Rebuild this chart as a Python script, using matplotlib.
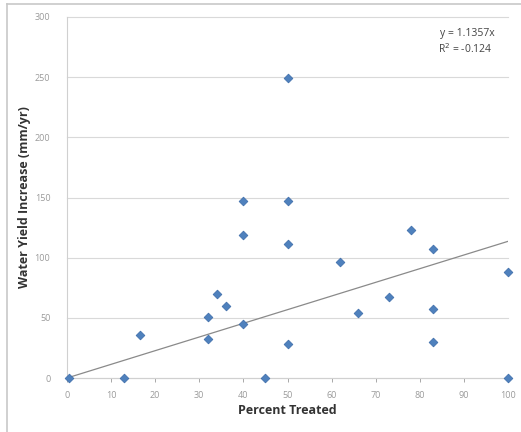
import matplotlib
matplotlib.use("Agg")
import matplotlib.pyplot as plt
from matplotlib.lines import Line2D
import numpy as np

percent_treated = [0.5, 13, 16.5, 32, 32, 34, 36, 40, 40, 40, 45, 50, 50, 50, 50,
                   62, 66, 73, 78, 83, 83, 83, 100, 100]
yield_increase = [0, 0, 36, 51, 32, 70, 60, 45, 119, 147, 0, 28, 111, 147, 249,
                  96, 54, 67, 123, 107, 57, 30, 88, 0]
slope = 1.1357
r2_text = "-0.124"
x_ticks = [0, 10, 20, 30, 40, 50, 60, 70, 80, 90, 100]
y_ticks = [0, 50, 100, 150, 200, 250, 300]

plt.rcParams['font.family'] = ['Open Sans', 'DejaVu Sans']

fig = plt.figure(figsize=(5.21, 4.32), dpi=100)
ax = fig.add_axes([67/521, 1-378/432, (508-67)/521, (378-17)/432])

ax.scatter(percent_treated, yield_increase, marker='D', s=20, color='#4F81BD',
           edgecolors='#3A6AA8', linewidths=0.5, zorder=3, clip_on=False)
xl = np.array([0, 100])
ax.plot(xl, slope * xl, color='#8a8a8a', linewidth=0.9, zorder=2)

ax.set_xlim(0, 100)
ax.set_ylim(0, 300)
ax.set_xticks(x_ticks)
ax.set_yticks(y_ticks)
ax.tick_params(axis='both', labelsize=6.5, colors='#9a9a9a', length=3, width=0.6)
ax.tick_params(axis='y', length=0, pad=12)
ax.tick_params(axis='x', direction='out', pad=6)
ax.grid(axis='y', color='#d9d9d9', linewidth=0.8, clip_on=False)
ax.set_axisbelow(True)
for s in ['top', 'right']:
    ax.spines[s].set_visible(False)
for s in ['left', 'bottom']:
    ax.spines[s].set_color('#d0d0d0')
    ax.spines[s].set_linewidth(0.8)

ax.set_xlabel('Percent Treated', fontsize=9, fontweight='bold', color='#333333', labelpad=3)
ax.set_ylabel('Water Yield Increase (mm/yr)', fontsize=9, fontweight='bold', color='#333333')
ax.yaxis.set_label_coords(-0.082, 0.5)

ax.text(0.97, 0.955, 'y = %.4fx' % slope, transform=ax.transAxes, ha='right', va='center',
        fontsize=7.5, color='#444444')
ax.text(0.965, 0.91, 'R$^2$ = ' + r2_text, transform=ax.transAxes, ha='right', va='center',
        fontsize=7.5, color='#444444')

fig.add_artist(Line2D([7/521, 7/521], [0, 1-4/432], transform=fig.transFigure,
                      color='#c8c8c8', linewidth=1.2))
fig.add_artist(Line2D([7/521, 1], [1-4/432, 1-4/432], transform=fig.transFigure,
                      color='#c8c8c8', linewidth=1.2))

fig.savefig('out.png', dpi=100)
